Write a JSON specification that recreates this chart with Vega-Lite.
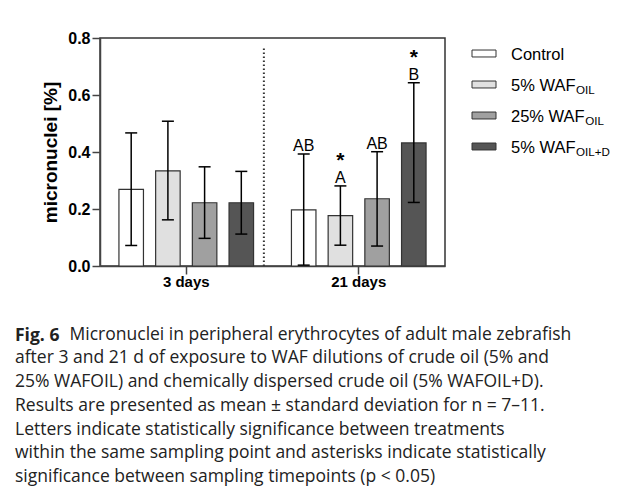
{
  "$schema": "https://vega.github.io/schema/vega-lite/v6.json",
  "background": "white",
  "padding": {"left": 15, "top": 29, "right": 5, "bottom": 5},
  "config": {
    "font": "Liberation Sans",
    "concat": {"spacing": 20}
  },
  "datasets": {
    "bars": [
      {"time": "3 days", "treatment": "Control", "mean": 0.269, "lo": 0.072, "hi": 0.467, "letter": "", "star": ""},
      {"time": "3 days", "treatment": "5% WAF OIL", "mean": 0.334, "lo": 0.162, "hi": 0.508, "letter": "", "star": ""},
      {"time": "3 days", "treatment": "25% WAF OIL", "mean": 0.222, "lo": 0.097, "hi": 0.348, "letter": "", "star": ""},
      {"time": "3 days", "treatment": "5% WAF OIL+D", "mean": 0.222, "lo": 0.112, "hi": 0.332, "letter": "", "star": ""},
      {"time": "21 days", "treatment": "Control", "mean": 0.197, "lo": 0.003, "hi": 0.393, "letter": "AB", "star": ""},
      {"time": "21 days", "treatment": "5% WAF OIL", "mean": 0.177, "lo": 0.073, "hi": 0.281, "letter": "A", "star": "*"},
      {"time": "21 days", "treatment": "25% WAF OIL", "mean": 0.236, "lo": 0.070, "hi": 0.401, "letter": "AB", "star": ""},
      {"time": "21 days", "treatment": "5% WAF OIL+D", "mean": 0.432, "lo": 0.223, "hi": 0.643, "letter": "B", "star": "*"}
    ],
    "legend": [
      {"treatment": "Control", "main": "Control", "sub": ""},
      {"treatment": "5% WAF OIL", "main": "5% WAF", "sub": "OIL"},
      {"treatment": "25% WAF OIL", "main": "25% WAF", "sub": "OIL"},
      {"treatment": "5% WAF OIL+D", "main": "5% WAF", "sub": "OIL+D"}
    ]
  },
  "title": {
    "text": "Fig. 6",
    "subtitle": [
      "\u200b\u00a0\u00a0\u00a0\u00a0\u00a0\u00a0\u00a0\u00a0\u00a0\u00a0\u00a0\u00a0Micronuclei in peripheral erythrocytes of adult male zebrafish",
      "after 3 and 21 d of exposure to WAF dilutions of crude oil (5% and",
      "25% WAFOIL) and chemically dispersed crude oil (5% WAFOIL+D).",
      "Results are presented as mean ± standard deviation for n = 7–11.",
      "Letters indicate statistically significance between treatments",
      "within the same sampling point and asterisks indicate statistically",
      "significance between sampling timepoints (p < 0.05)"
    ],
    "orient": "bottom",
    "anchor": "start",
    "frame": "bounds",
    "dx": -26,
    "offset": 37,
    "font": "Open Sans",
    "fontSize": 17.5,
    "fontWeight": "bold",
    "color": "#222222",
    "subtitleFont": "Open Sans",
    "subtitleFontSize": 17.5,
    "subtitleFontWeight": "normal",
    "subtitleColor": "#222222",
    "subtitleLineHeight": 23.7,
    "subtitlePadding": -18.5
  },
  "hconcat": [
    {
      "width": 345,
      "height": 228,
      "data": {"name": "bars"},
      "view": {"stroke": "#333333", "strokeWidth": 1.5},
      "layer": [
        {
          "mark": {"type": "bar", "stroke": "#333333", "strokeWidth": 1.2},
          "encoding": {
            "x": {
              "field": "time", "type": "nominal", "sort": ["3 days", "21 days"],
              "scale": {"paddingInner": 0, "paddingOuter": 0},
              "axis": {
                "title": null, "labelAngle": 0, "labelFontSize": 15, "labelFontWeight": "bold",
                "labelColor": "black", "tickSize": 8, "labelPadding": 0,
                "domainColor": "#444444", "tickColor": "#444444", "domainWidth": 1.5, "tickWidth": 1.5
              }
            },
            "xOffset": {
              "field": "treatment", "type": "nominal",
              "sort": ["Control", "5% WAF OIL", "25% WAF OIL", "5% WAF OIL+D"],
              "scale": {"paddingInner": 0.332, "paddingOuter": 0.516}
            },
            "y": {
              "field": "mean", "type": "quantitative", "stack": null,
              "scale": {"domain": [0, 0.8], "nice": false},
              "axis": {
                "values": [0, 0.2, 0.4, 0.6, 0.8], "format": ".1f", "grid": false,
                "title": "micronuclei [%]", "titleFontSize": 19, "titleFontWeight": "bold", "titleColor": "black",
                "titlePadding": 7,
                "labelFontSize": 16, "labelFontWeight": "bold", "labelColor": "black", "labelPadding": 2,
                "tickSize": 8, "domainColor": "#444444", "tickColor": "#444444", "domainWidth": 1.5, "tickWidth": 1.5
              }
            },
            "fill": {
              "field": "treatment", "type": "nominal",
              "scale": {
                "domain": ["Control", "5% WAF OIL", "25% WAF OIL", "5% WAF OIL+D"],
                "range": ["#ffffff", "#e0e0e0", "#a0a0a0", "#555555"]
              },
              "legend": null
            }
          }
        },
        {
          "mark": {"type": "rule", "color": "black", "strokeWidth": 1.5},
          "encoding": {
            "x": {"field": "time", "type": "nominal", "sort": ["3 days", "21 days"]},
            "xOffset": {"field": "treatment", "type": "nominal", "sort": ["Control", "5% WAF OIL", "25% WAF OIL", "5% WAF OIL+D"]},
            "y": {"field": "lo", "type": "quantitative"},
            "y2": {"field": "hi"}
          }
        },
        {
          "mark": {"type": "tick", "color": "black", "thickness": 1.5, "size": 12, "opacity": 1},
          "encoding": {
            "x": {"field": "time", "type": "nominal", "sort": ["3 days", "21 days"]},
            "xOffset": {"field": "treatment", "type": "nominal", "sort": ["Control", "5% WAF OIL", "25% WAF OIL", "5% WAF OIL+D"]},
            "y": {"field": "hi", "type": "quantitative"}
          }
        },
        {
          "mark": {"type": "tick", "color": "black", "thickness": 1.5, "size": 12, "opacity": 1},
          "encoding": {
            "x": {"field": "time", "type": "nominal", "sort": ["3 days", "21 days"]},
            "xOffset": {"field": "treatment", "type": "nominal", "sort": ["Control", "5% WAF OIL", "25% WAF OIL", "5% WAF OIL+D"]},
            "y": {"field": "lo", "type": "quantitative"}
          }
        },
        {
          "mark": {"type": "text", "fontSize": 16, "baseline": "alphabetic", "dy": -3, "color": "black"},
          "encoding": {
            "x": {"field": "time", "type": "nominal", "sort": ["3 days", "21 days"]},
            "xOffset": {"field": "treatment", "type": "nominal", "sort": ["Control", "5% WAF OIL", "25% WAF OIL", "5% WAF OIL+D"]},
            "y": {"field": "hi", "type": "quantitative"},
            "text": {"field": "letter"}
          }
        },
        {
          "mark": {"type": "text", "fontSize": 21, "fontWeight": "bold", "baseline": "alphabetic", "dy": -19, "color": "black"},
          "encoding": {
            "x": {"field": "time", "type": "nominal", "sort": ["3 days", "21 days"]},
            "xOffset": {"field": "treatment", "type": "nominal", "sort": ["Control", "5% WAF OIL", "25% WAF OIL", "5% WAF OIL+D"]},
            "y": {"field": "hi", "type": "quantitative"},
            "text": {"field": "star"}
          }
        },
        {
          "data": {"values": [{}]},
          "mark": {"type": "rule", "color": "#333333", "strokeWidth": 2, "strokeDash": [1.5, 2.5]},
          "encoding": {
            "x": {"datum": "3 days", "type": "nominal", "bandPosition": 0.95},
            "y": {"datum": 0, "type": "quantitative"},
            "y2": {"datum": 0.77}
          }
        }
      ]
    },
    {
      "width": 150,
      "height": 124,
      "data": {"name": "legend"},
      "view": {"stroke": null},
      "encoding": {
        "y": {
          "field": "treatment", "type": "nominal",
          "sort": ["Control", "5% WAF OIL", "25% WAF OIL", "5% WAF OIL+D"],
          "scale": {"paddingInner": 0, "paddingOuter": 0},
          "axis": null
        }
      },
      "layer": [
        {
          "mark": {"type": "point", "shape": "M-1,-0.29L1,-0.29L1,0.29L-1,0.29Z", "size": 576, "filled": true, "stroke": "#333333", "strokeWidth": 1, "opacity": 1},
          "encoding": {
            "x": {"datum": 18, "type": "quantitative", "scale": {"domain": [0, 150], "nice": false, "zero": false}, "axis": null},
            "fill": {"field": "treatment", "type": "nominal", "legend": null}
          }
        },
        {
          "mark": {"type": "text", "align": "left", "baseline": "alphabetic", "dy": 6, "fontSize": 16.5, "color": "black"},
          "encoding": {
            "x": {"datum": 45, "type": "quantitative"},
            "text": {"field": "main"}
          }
        },
        {
          "transform": [{"filter": "datum.main === '5% WAF'"}],
          "mark": {"type": "text", "align": "left", "baseline": "alphabetic", "dx": 65.1, "dy": 9, "fontSize": 11.6, "color": "black"},
          "encoding": {
            "x": {"datum": 45, "type": "quantitative"},
            "text": {"field": "sub"}
          }
        },
        {
          "transform": [{"filter": "datum.main === '25% WAF'"}],
          "mark": {"type": "text", "align": "left", "baseline": "alphabetic", "dx": 74.3, "dy": 9, "fontSize": 11.6, "color": "black"},
          "encoding": {
            "x": {"datum": 45, "type": "quantitative"},
            "text": {"field": "sub"}
          }
        }
      ]
    }
  ]
}
